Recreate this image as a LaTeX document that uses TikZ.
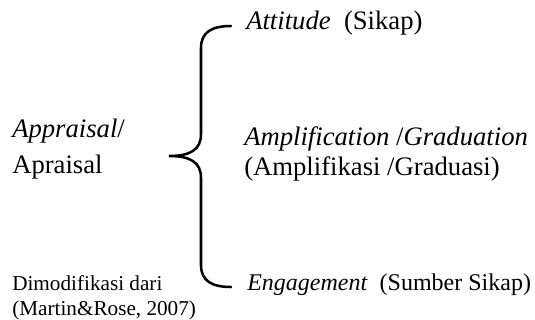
\documentclass[tikz,border=0pt]{standalone}
\usepackage{fontspec}
\setmainfont{Liberation Serif}
\usetikzlibrary{positioning,calc}

\begin{document}
\begin{tikzpicture}[
  x=0.75pt, y=-0.75pt,
  term/.style={anchor=base west, inner sep=0pt, align=left, font=\fontsize{20}{22.5}\selectfont},
  rootterm/.style={term, font=\fontsize{20}{27}\selectfont},
  srcnote/.style={anchor=base west, inner sep=0pt, align=left, font=\fontsize{15.9}{18}\selectfont},
  bracepath/.style={line width=1.9pt, line cap=round}
]
\useasboundingbox (0,0) rectangle (535,320);

% base anchor sits on the last line
\node[rootterm] (root) at (12,174) {\textit{Appraisal}/\\Apraisal};
\node[term] (attitude) at (246,30) {\textit{Attitude}\enspace(Sikap)};
\node[term] (graduation) at (244,176) {\textit{Amplification} /\textit{Graduation}\\(Amplifikasi /Graduasi)};
\node[term, font=\fontsize{18}{21}\selectfont] (engagement) at (247,291) {\textit{Engagement}\enspace(Sumber Sikap)};
\node[srcnote] (source) at (12,315) {Dimodifikasi dari\\(Martin\&Rose, 2007)};

% the curly brace
\coordinate (btop) at (231,26);
\coordinate (btip) at (169,156);
\coordinate (bbot) at (231,287);
\draw[bracepath] (btop) .. controls (212,26) and (201,32) .. (201,48)
  -- (201,134) .. controls (201,150) and (190,156) .. (btip)
  .. controls (190,156) and (201,162) .. (201,178)
  -- (201,265) .. controls (201,281) and (212,287) .. (bbot);
\end{tikzpicture}
\end{document}
